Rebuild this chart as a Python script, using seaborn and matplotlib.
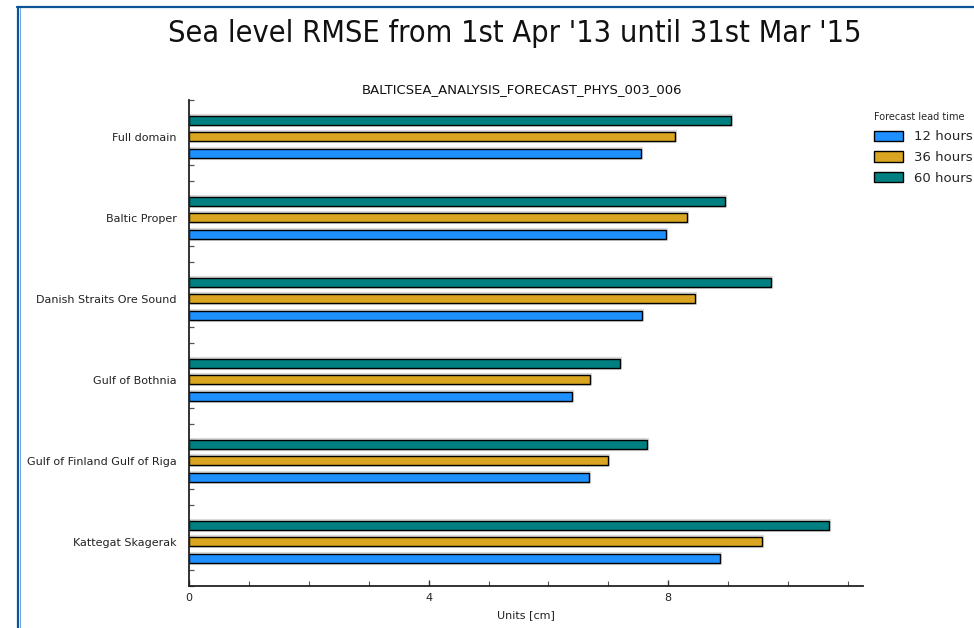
import matplotlib
matplotlib.use("Agg")
import matplotlib.pyplot as plt
import matplotlib.patheffects as pe
from matplotlib.patches import Patch
from matplotlib.lines import Line2D
from matplotlib.ticker import MultipleLocator, FixedLocator
import seaborn as sns
import pandas as pd

regions = ["Full domain", "Baltic Proper", "Danish Straits Ore Sound",
           "Gulf of Bothnia", "Gulf of Finland Gulf of Riga", "Kattegat Skagerak"]
rmse_12h = [7.55, 7.96, 7.56, 6.39, 6.68, 8.87]
rmse_36h = [8.12, 8.32, 8.44, 6.69, 7.00, 9.57]
rmse_60h = [9.05, 8.94, 9.71, 7.20, 7.65, 10.68]
leads = ["12 hours", "36 hours", "60 hours"]
colors = {"12 hours": "#1e90ff", "36 hours": "#daa520", "60 hours": "#008080"}

title = "Sea level RMSE from 1st Apr '13 until 31st Mar '15"
subtitle = "BALTICSEA_ANALYSIS_FORECAST_PHYS_003_006"
xlabel = "Units [cm]"

df = pd.DataFrame({
    "region": regions * 3,
    "rmse": rmse_12h + rmse_36h + rmse_60h,
    "lead": [leads[0]] * 6 + [leads[1]] * 6 + [leads[2]] * 6,
})

sns.set_theme(style="white")
plt.rcParams["font.family"] = ["DejaVu Sans"]

W, H = 974, 628
fig = plt.figure(figsize=(W / 100, H / 100), dpi=100)
ax = fig.add_axes([189 / W, 1 - 586 / H, (863 - 189) / W, (586 - 100) / H])

sns.barplot(data=df, y="region", x="rmse", hue="lead",
            hue_order=["60 hours", "36 hours", "12 hours"], order=regions,
            palette=colors, orient="h", width=0.6, gap=0.45,
            edgecolor="black", linewidth=1.0, errorbar=None, legend=False,
            saturation=1, ax=ax)

for p in ax.patches:
    p.set_path_effects([pe.Stroke(linewidth=3.0, foreground="#999999", alpha=0.35), pe.Normal()])

ax.set_axisbelow(True)
ax.set_xlim(0, 11.25)
ax.set_ylim(5.545, -0.455)

for s in ["top", "right"]:
    ax.spines[s].set_visible(False)
for s in ["left", "bottom"]:
    ax.spines[s].set_color("#222222")
    ax.spines[s].set_linewidth(1.3)

ax.xaxis.set_major_locator(FixedLocator([0, 4, 8]))
ax.xaxis.set_minor_locator(MultipleLocator(1))
ax.tick_params(axis="x", which="major", direction="in", length=4.5, width=1, color="#333333",
               labelsize=8, pad=5, labelcolor="#222222", bottom=True)
ax.tick_params(axis="x", which="minor", direction="in", length=3.5, width=0.8, color="#555555", bottom=True)

ax.yaxis.set_minor_locator(FixedLocator([-0.455 + 0.2 * k for k in range(31)]))
ax.tick_params(axis="y", which="major", length=0, labelsize=8, pad=9, labelcolor="#222222", left=True)
ax.tick_params(axis="y", which="minor", direction="in", length=3.5, width=0.9, color="#555555", left=True)

ax.set_ylabel("")
ax.set_xlabel(xlabel, fontsize=8, labelpad=5, color="#222222")

fig.text(515 / W, 1 - 33 / H, title, ha="center", va="center", fontsize=22,
         fontstretch="condensed", color="#111111")
fig.text(522 / W, 1 - 90 / H, subtitle, ha="center", va="center", fontsize=9.5, color="#111111")

handles = [Patch(facecolor=colors[l], edgecolor="black", linewidth=1.0) for l in leads]
leg = ax.legend(handles, leads, title="Forecast lead time", loc="upper left",
                bbox_to_anchor=(869 / W, 1 - 107 / H), bbox_transform=fig.transFigure,
                frameon=False, fontsize=9.5, title_fontsize=7, handlelength=2.2,
                handleheight=0.8, handletextpad=0.8, labelspacing=0.6, borderaxespad=0)
leg._legend_box.align = "left"

# figure frame
fig.add_artist(Line2D([17 / W, 1], [1 - 7 / H, 1 - 7 / H], transform=fig.transFigure,
                      color="#0b5394", linewidth=1.6))
fig.add_artist(Line2D([17.5 / W, 17.5 / W], [0, 1 - 7 / H], transform=fig.transFigure,
                      color="#0b5394", linewidth=1.6))
fig.add_artist(Line2D([19.5 / W, 19.5 / W], [0, 1 - 8 / H], transform=fig.transFigure,
                      color="#6fa8dc", linewidth=0.8))

fig.savefig("out.png", dpi=100)
